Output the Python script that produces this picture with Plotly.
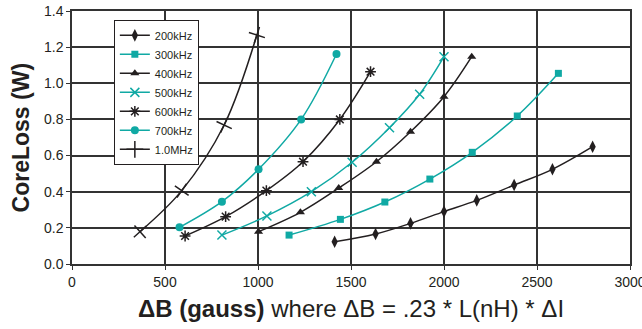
import plotly.graph_objects as go

BLACK = "#231f20"
TEAL = "#10a9a4"

names = ["200kHz", "300kHz", "400kHz", "500kHz", "600kHz", "700kHz", "1.0MHz"]

x_200 = [1412, 1632, 1820, 2000, 2176, 2377, 2583, 2799]
y_200 = [0.123, 0.166, 0.225, 0.290, 0.352, 0.437, 0.524, 0.649]

x_300 = [1167, 1443, 1682, 1924, 2152, 2394, 2615]
y_300 = [0.160, 0.247, 0.343, 0.470, 0.618, 0.819, 1.055]

x_400 = [1003, 1228, 1434, 1637, 1820, 2000, 2149]
y_400 = [0.179, 0.286, 0.420, 0.566, 0.732, 0.926, 1.147]

x_500 = [806, 1048, 1287, 1506, 1707, 1869, 2000]
y_500 = [0.160, 0.266, 0.400, 0.563, 0.754, 0.939, 1.147]

x_600 = [608, 826, 1045, 1242, 1440, 1605]
y_600 = [0.155, 0.262, 0.406, 0.566, 0.800, 1.064]

x_700 = [578, 806, 1003, 1232, 1422]
y_700 = [0.203, 0.345, 0.524, 0.800, 1.162]

x_1m = [366, 590, 818, 994]
y_1m = [0.179, 0.406, 0.769, 1.267]

x_ticks = [0, 500, 1000, 1500, 2000, 2500, 3000]
y_ticks = [0.0, 0.2, 0.4, 0.6, 0.8, 1.0, 1.2, 1.4]

series = [
    (x_200, y_200, BLACK, "diamond-tall", 9),
    (x_300, y_300, TEAL, "square", 7),
    (x_400, y_400, BLACK, "triangle-up", 8),
    (x_500, y_500, TEAL, "x-thin", 9),
    (x_600, y_600, BLACK, "asterisk", 9),
    (x_700, y_700, TEAL, "circle", 8),
    (x_1m, y_1m, BLACK, "cross-thin", 12),
]

fig = go.Figure()
for i, (name, (xs, ys, col, sym, sz)) in enumerate(zip(names, series)):
    thin = sym in ("x-thin", "asterisk", "cross-thin")
    is_1m = sym == "cross-thin"
    line = dict(color=col, width=1.5, shape="spline", smoothing=1.0)
    mline = dict(color=col, width=1.5 if thin else 0)
    # ticks of the 1.0MHz curve sit across the curve
    ang = [48, 35, 25, 18] if is_1m else 0
    fig.add_trace(go.Scatter(
        x=xs, y=ys, name=name, mode="lines+markers",
        line=line,
        marker=dict(symbol=sym, size=sz, color=col, angle=ang, line=mline),
        showlegend=not is_1m, legendrank=i,
    ))
    if is_1m:
        # legend-only entry with an upright "+"
        fig.add_trace(go.Scatter(
            x=[None], y=[None], name=name, mode="lines+markers",
            line=line,
            marker=dict(symbol=sym, size=sz, color=col, line=mline),
            legendrank=i,
        ))

fig.update_layout(
    width=642, height=329,
    margin=dict(l=72, r=12, t=11, b=65, autoexpand=False),
    paper_bgcolor="white", plot_bgcolor="white",
    font=dict(family="Liberation Sans, Arial, sans-serif", color=BLACK, size=14),
    showlegend=True,
    legend=dict(
        x=0.075, y=0.965, xanchor="left", yanchor="top",
        bgcolor="white", bordercolor=BLACK, borderwidth=1,
        font=dict(size=11, color=BLACK),
        itemwidth=30, tracegroupgap=0,
    ),
    xaxis=dict(
        range=[0, 3000], tickvals=x_ticks, ticktext=[str(v) for v in x_ticks],
        showgrid=True, gridcolor="#333333", gridwidth=1.5,
        showline=True, linecolor="#333333", linewidth=1.5, mirror=True,
        ticks="outside", ticklen=4, tickcolor="#333333",
        ticklabeloverflow="allow", automargin=False,
        zeroline=False,
        title=dict(text="<b>ΔB (gauss)</b> where ΔB = .23 * L(nH) * ΔI",
                   font=dict(size=24, color=BLACK), standoff=12),
    ),
    yaxis=dict(
        range=[0, 1.4], tickvals=y_ticks, ticktext=[f"{v:.1f}" for v in y_ticks],
        showgrid=True, gridcolor="#333333", gridwidth=1.5,
        showline=True, linecolor="#333333", linewidth=1.5, mirror=True,
        ticks="outside", ticklen=4, tickcolor="#333333",
        automargin=False, zeroline=False,
    ),
    annotations=[dict(
        text="<b>CoreLoss (W)</b>", textangle=-90,
        xref="paper", yref="paper", x=-0.0915, y=0.5,
        xanchor="center", yanchor="middle", showarrow=False,
        font=dict(size=23, color=BLACK),
    )],
)

fig.write_html("out.html")
